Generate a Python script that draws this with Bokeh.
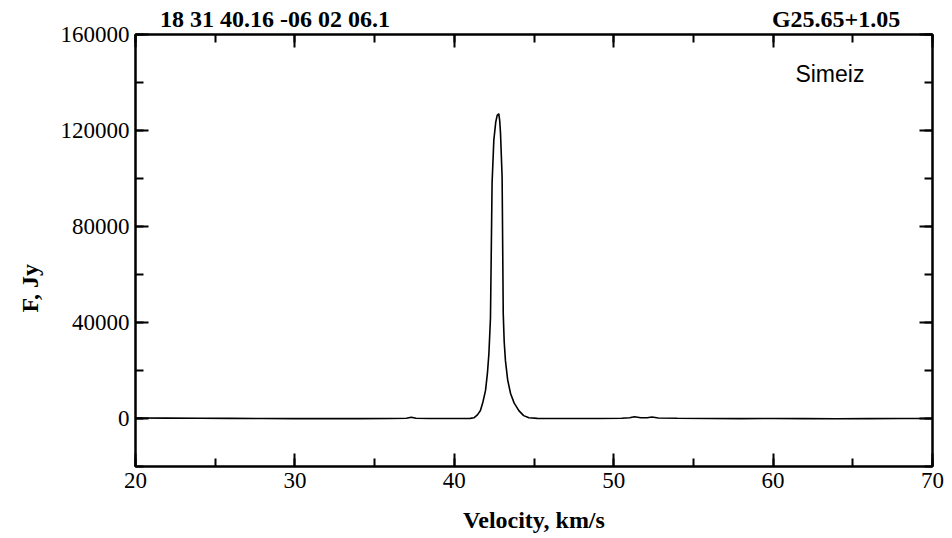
from bokeh.plotting import figure
from bokeh.models import (Range1d, LinearAxis, Label, FixedTicker, NumeralTickFormatter,
                          Title)
from bokeh.embed import file_html
from bokeh.resources import INLINE

velocity = [20.0, 22.0, 24.0, 26.0, 28.0, 30.0, 32.0, 34.0, 36.0, 37.0, 37.3, 37.6,
            38.5, 40.0, 41.0, 41.23, 41.45, 41.64, 41.8, 41.96, 42.08, 42.17, 42.27,
            42.37, 42.48, 42.6, 42.69, 42.79, 42.85, 42.9, 43.0, 43.07, 43.13, 43.21,
            43.35, 43.53, 43.75, 44.05, 44.35, 44.68, 45.2, 47.0, 49.0, 50.5, 51.0,
            51.3, 51.7, 52.1, 52.4, 52.8, 54.0, 56.0, 58.0, 60.0, 62.0, 64.0, 66.0,
            68.0, 70.0]
flux = [200, 150, 100, 50, 0, -50, 0, -50, 0, 100, 500, 100,
        0, 0, 50, 300, 1500, 3300, 7000, 11700, 19000, 27000, 42000,
        98000, 116000, 123500, 126300, 127000, 124000, 118700, 100500, 43700, 32000, 24000,
        16000, 10400, 6500, 3300, 1200, 300, 50, 0, 0, 100, 300,
        700, 300, 300, 600, 200, 100, 0, -50, 0, -50, -100, -50,
        0, 0]

x_ticks = [20, 30, 40, 50, 60, 70]
x_minor = [20, 25, 30, 35, 40, 45, 50, 55, 60, 65, 70]
y_ticks = [0, 40000, 80000, 120000, 160000]
y_minor = [-20000, 0, 20000, 40000, 60000, 80000, 100000, 120000, 140000, 160000]

title_left = "18 31 40.16  -06 02 06.1"
title_right = "G25.65+1.05"
title_pos = [28.94, 63.95]
station = "Simeiz"
x_label = "Velocity, km/s"
y_label = "F, Jy"

serif = "Liberation Serif"
sans = "Liberation Sans"

p = figure(width=952, height=538, output_backend="svg", toolbar_location=None,
           x_range=Range1d(20, 70), y_range=Range1d(-20000, 160000),
           min_border_left=135, min_border_right=20, min_border_top=34,
           min_border_bottom=72, x_axis_location=None, y_axis_location=None)
p.grid.visible = False
p.outline_line_color = "black"
p.outline_line_width = 2
p.background_fill_color = "white"
p.border_fill_color = "white"

def style(ax, labels=True):
    ax.major_tick_in = 13
    ax.major_tick_out = 0
    ax.minor_tick_in = 8
    ax.minor_tick_out = 0
    ax.axis_line_color = "black"
    ax.axis_line_width = 2
    ax.major_tick_line_width = 2
    ax.minor_tick_line_width = 2
    ax.major_label_text_font = serif
    ax.major_label_text_font_size = "23px"
    ax.major_label_text_color = "black"
    ax.major_label_standoff = 6
    ax.formatter = NumeralTickFormatter(format="0")
    if not labels:
        ax.major_label_text_alpha = 0
        ax.major_label_text_font_size = "1px"
        ax.major_label_standoff = 0

xb = LinearAxis(ticker=FixedTicker(ticks=x_ticks, minor_ticks=x_minor))
style(xb)
xb.axis_label = x_label
xb.axis_label_text_font = serif
xb.axis_label_text_font_style = "bold"
xb.axis_label_text_font_size = "24px"
xb.axis_label_text_color = "black"
xb.axis_label_standoff = 16
p.add_layout(xb, "below")

xt = LinearAxis(ticker=FixedTicker(ticks=x_ticks, minor_ticks=x_minor))
style(xt, labels=False)
p.add_layout(xt, "above")

# top texts carried by an outer top axis without line or ticks
xt2 = LinearAxis(ticker=FixedTicker(ticks=title_pos, minor_ticks=[]))
xt2.axis_line_color = None
xt2.major_tick_line_color = None
xt2.minor_tick_line_color = None
xt2.major_tick_in = 0
xt2.major_tick_out = 0
xt2.major_label_overrides = {title_pos[0]: title_left, title_pos[1]: title_right}
xt2.major_label_text_font = serif
xt2.major_label_text_font_style = "bold"
xt2.major_label_text_font_size = "24px"
xt2.major_label_text_color = "black"
xt2.major_label_standoff = 3
p.add_layout(xt2, "above")

yl = LinearAxis(ticker=FixedTicker(ticks=y_ticks, minor_ticks=y_minor))
style(yl)
p.add_layout(yl, "left")

yr = LinearAxis(ticker=FixedTicker(ticks=y_ticks, minor_ticks=y_minor))
style(yr, labels=False)
p.add_layout(yr, "right")

p.add_layout(Title(text=y_label, align="left", offset=154, standoff=29,
                   text_font=serif, text_font_style="bold", text_font_size="24px",
                   text_color="black"), "left")

p.line(velocity, flux, line_color="black", line_width=1.6)

p.add_layout(Label(x=61.4, y=143500, text=station, text_font=sans, text_color="black",
                   text_font_size="23px", text_baseline="middle", text_align="left"))

open("out.html", "w").write(file_html(p, INLINE))
